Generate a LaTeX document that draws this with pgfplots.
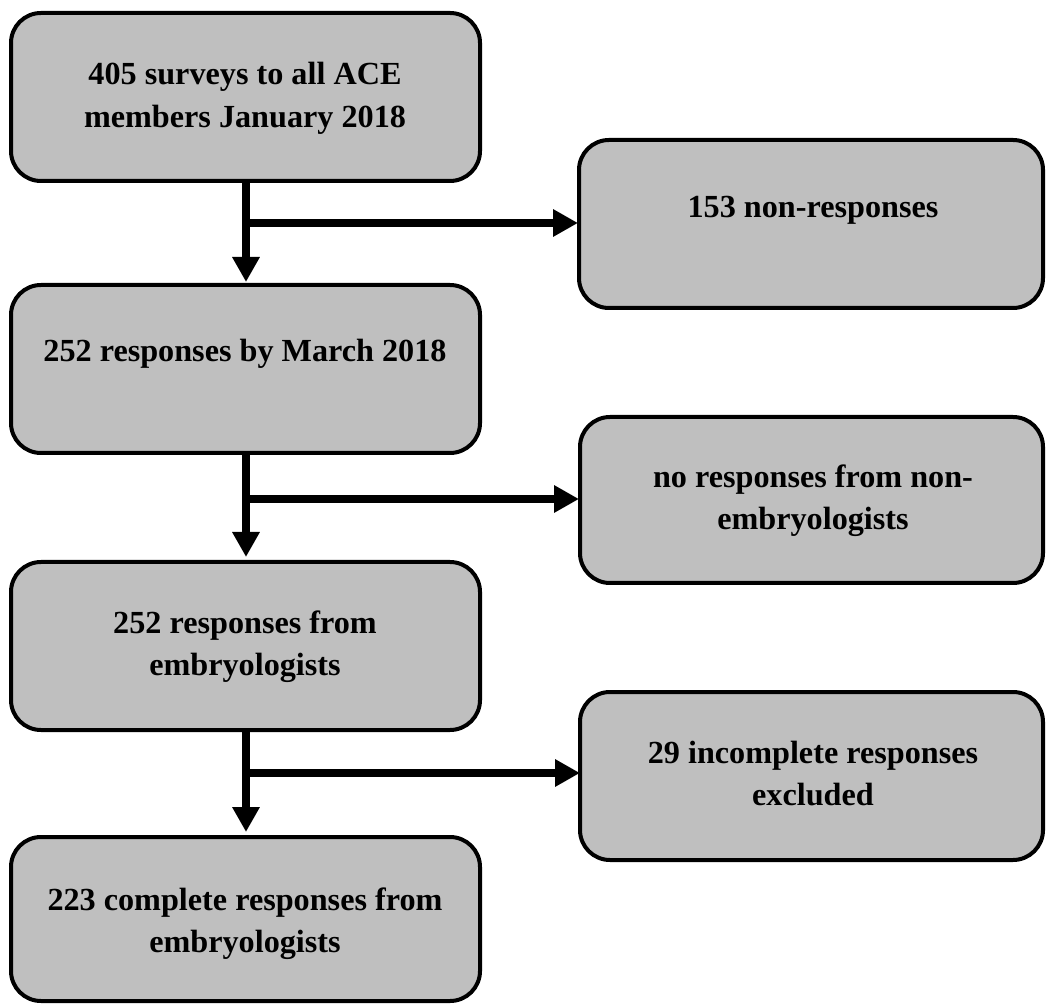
\documentclass[border=0pt]{standalone}
\usepackage{pgfplots}
\pgfplotsset{compat=1.18}
\usepackage{fontspec}
\setmainfont{Liberation Serif}
\usetikzlibrary{arrows.meta}
\definecolor{boxgray}{HTML}{BFBFBF}
\begin{document}
\begin{tikzpicture}
\begin{axis}[
  scale only axis, width=523pt, height=503pt,
  xmin=0, xmax=1046, ymin=0, ymax=1006,
  hide axis, clip=false]
% boxes (pixel coordinates, y upward)
\tikzset{fbox/.style={draw=black, fill=boxgray, line width=2pt, rounded corners=15pt}}
\draw[fbox] (axis cs:11,825) rectangle (axis cs:480,993);
\draw[fbox] (axis cs:579,698) rectangle (axis cs:1043,866);
\draw[fbox] (axis cs:11,553) rectangle (axis cs:480,721);
\draw[fbox] (axis cs:580,423) rectangle (axis cs:1043,589);
\draw[fbox] (axis cs:11,276) rectangle (axis cs:480,444);
\draw[fbox] (axis cs:580,146) rectangle (axis cs:1043,314);
\draw[fbox] (axis cs:11,5) rectangle (axis cs:480,169);
% arrows
\pgfplotsset{arr/.style={black, line width=4pt, line cap=butt, -{Triangle[length=12.5pt,width=13pt]}}}
\addplot[arr] coordinates {(246,823) (246,724)};
\addplot[arr] coordinates {(242,783) (578,783)};
\addplot[arr] coordinates {(246,551) (246,449)};
\addplot[arr] coordinates {(242,507) (579,507)};
\addplot[arr] coordinates {(246,274) (246,174)};
\addplot[arr] coordinates {(242,233) (580,233)};
% texts
\tikzset{lbl/.style={anchor=base, inner sep=0pt, font=\fontsize{16.1pt}{19pt}\selectfont\bfseries}}
\node[lbl] at (axis cs:245,921) {405 surveys to all ACE};
\node[lbl] at (axis cs:245,878) {members January 2018};
\node[lbl] at (axis cs:813,788) {153 non-responses};
\node[lbl] at (axis cs:245,644) {252 responses by March 2018};
\node[lbl] at (axis cs:813,518) {no responses from non-};
\node[lbl] at (axis cs:813,476) {embryologists};
\node[lbl] at (axis cs:245,373) {252 responses from};
\node[lbl] at (axis cs:245,331) {embryologists};
\node[lbl] at (axis cs:813,243) {29 incomplete responses};
\node[lbl] at (axis cs:813,201) {excluded};
\node[lbl] at (axis cs:245,96) {223 complete responses from};
\node[lbl] at (axis cs:245,54) {embryologists};
\end{axis}
\pgfresetboundingbox
\path (current axis.south west) rectangle (current axis.north east);
\end{tikzpicture}
\end{document}
